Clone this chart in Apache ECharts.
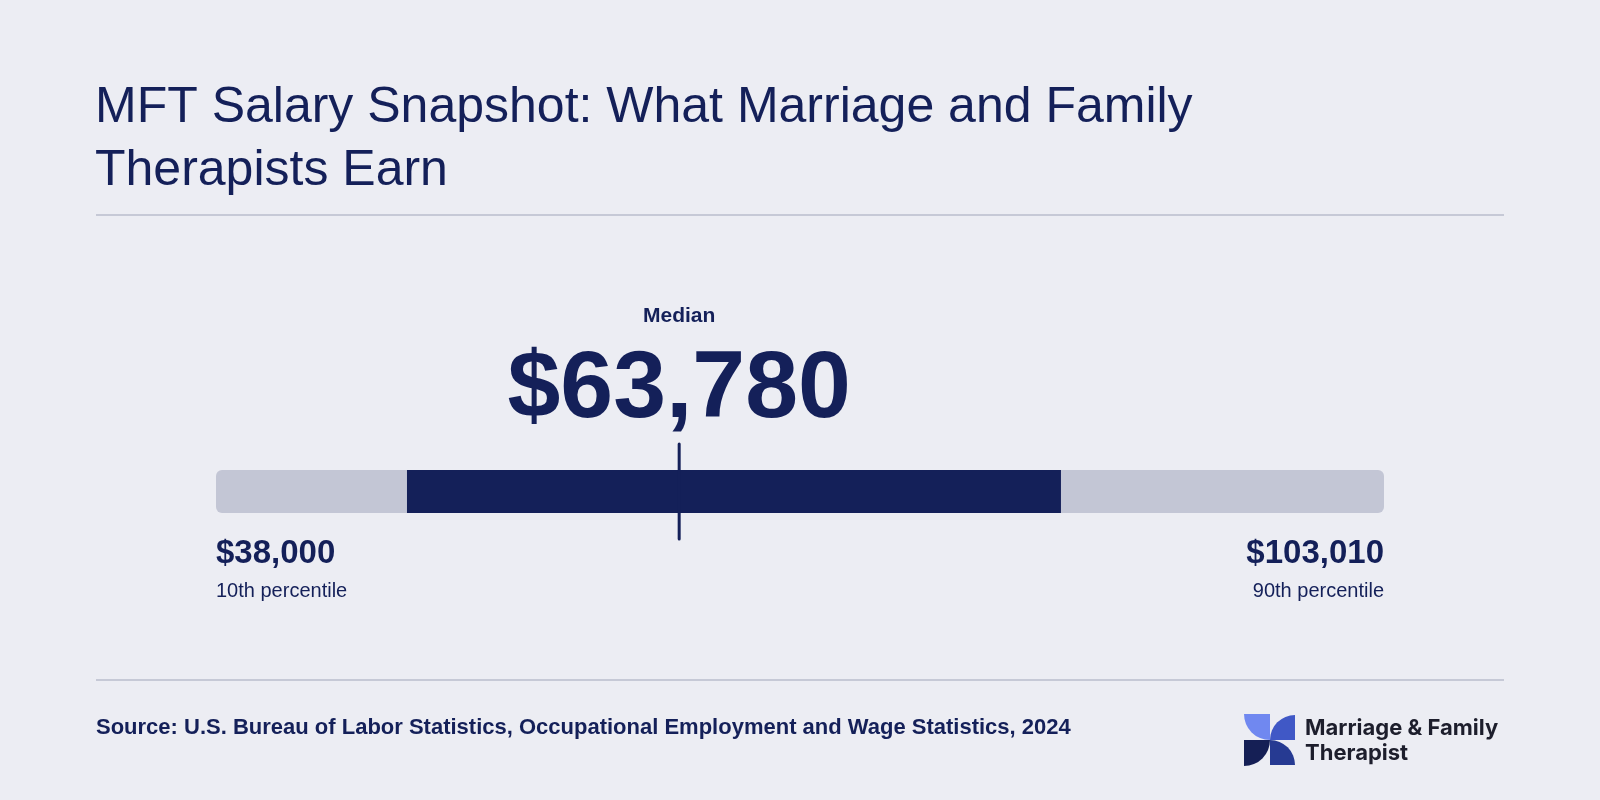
<!DOCTYPE html>
<html lang="en">
<head>
    <meta charset="UTF-8">
    <title>MFT Salary Snapshot</title>
    <script src="https://cdn.jsdelivr.net/npm/echarts@6/dist/echarts.min.js"></script>
</head>
<style>
    *{
        margin: 0;
        padding: 0;
    }
    html,body{
        width: 100%;
        height: 100%;
        overflow: hidden;
        background: #ecedf3;
    }
    .container{
        width: 1600px;
        height: 800px;
    }
</style>
<body>
<div class="container"></div>
<script>
   // salary percentiles (BLS 2024)
   const rangeValues = [38000, 103010];          // 10th, 90th percentile
   const rangeLabels = ['10th percentile', '90th percentile'];
   const boxValues = [48630, 85030];             // 25th, 75th percentile
   const medianValue = 63780;
   const medianLabel = 'Median';
   const categories = ['MFT'];

   const navy = '#142059';
   const track = '#c3c6d5';
   const fmt = v => '$' + v.toLocaleString('en-US');

   let container = document.querySelector('.container');
   let mychart = echarts.init(container);

   function renderItem(params, api) {
       let kind = api.value(2);
       let start = api.coord([api.value(0), 0]);
       let end = api.coord([api.value(1), 0]);
       let h = api.size([0, 1])[1];
       let top = start[1] - h / 2;
       if (kind === 0) {
           // full 10th-90th track with end labels
           return {
               type: 'group',
               children: [
                   {type: 'rect', shape: {x: start[0], y: top, width: end[0] - start[0], height: h, r: 6},
                    style: {fill: track}},
                   {type: 'text', style: {text: fmt(api.value(0)), x: start[0], y: top + h + 41,
                    font: 'bold 33px "Liberation Sans", Arial, sans-serif', fill: navy,
                    textAlign: 'left', textVerticalAlign: 'middle'}},
                   {type: 'text', style: {text: rangeLabels[0], x: start[0], y: top + h + 78,
                    font: '20px "Liberation Sans", Arial, sans-serif', fill: navy,
                    textAlign: 'left', textVerticalAlign: 'middle'}},
                   {type: 'text', style: {text: fmt(api.value(1)), x: end[0], y: top + h + 41,
                    font: 'bold 33px "Liberation Sans", Arial, sans-serif', fill: navy,
                    textAlign: 'right', textVerticalAlign: 'middle'}},
                   {type: 'text', style: {text: rangeLabels[1], x: end[0], y: top + h + 78,
                    font: '20px "Liberation Sans", Arial, sans-serif', fill: navy,
                    textAlign: 'right', textVerticalAlign: 'middle'}}
               ]
           };
       }
       if (kind === 1) {
           return {
               type: 'rect',
               shape: {x: start[0], y: top, width: end[0] - start[0], height: h},
               style: {fill: navy}
           };
       }
       // median marker
       return {
           type: 'group',
           children: [
               {type: 'line', shape: {x1: start[0], y1: top - 26, x2: start[0], y2: top + h + 26},
                style: {stroke: navy, lineWidth: 3, lineCap: 'round'}},
               {type: 'text', style: {text: fmt(api.value(0)), x: start[0], y: top - 79,
                font: 'bold 95px "Liberation Sans", Arial, sans-serif', fill: navy,
                textAlign: 'center', textVerticalAlign: 'middle'}},
               {type: 'text', style: {text: medianLabel, x: start[0], y: top - 154,
                font: 'bold 21px "Liberation Sans", Arial, sans-serif', fill: navy,
                textAlign: 'center', textVerticalAlign: 'middle'}}
           ]
       };
   }

   let options = {
       backgroundColor: '#ecedf3',
       animation: false,
       title: {
           text: 'MFT Salary Snapshot: What Marriage and Family\nTherapists Earn',
           left: 95,
           top: 77,
           padding: 0,
           textStyle: {
               color: navy,
               fontFamily: '"Liberation Sans", Arial, sans-serif',
               fontWeight: 'normal',
               fontSize: 50,
               lineHeight: 63
           }
       },
       grid: {left: 216, right: 216, top: 470, height: 43},
       xAxis: {
           type: 'value',
           min: rangeValues[0],
           max: rangeValues[1],
           show: false
       },
       yAxis: {
           type: 'category',
           data: categories,
           show: false
       },
       series: [{
           type: 'custom',
           renderItem,
           data: [
               [rangeValues[0], rangeValues[1], 0],
               [boxValues[0], boxValues[1], 1],
               [medianValue, medianValue, 2]
           ]
       }],
       graphic: [
           {type: 'line', shape: {x1: 96, y1: 215, x2: 1504, y2: 215}, style: {stroke: '#c6c9d6', lineWidth: 2}},
           {type: 'line', shape: {x1: 96, y1: 680, x2: 1504, y2: 680}, style: {stroke: '#c6c9d6', lineWidth: 2}},
           {type: 'text', style: {
               text: 'Source: U.S. Bureau of Labor Statistics, Occupational Employment and Wage Statistics, 2024',
               x: 96, y: 728, font: 'bold 22px "Liberation Sans", Arial, sans-serif', fill: navy,
               textAlign: 'left', textVerticalAlign: 'middle'}},
           // logo mark: four quarter discs
           {type: 'group', x: 1244, y: 714, children: [
               {type: 'sector', shape: {cx: 26, cy: 0, r: 26, startAngle: Math.PI / 2, endAngle: Math.PI, clockwise: true},
                style: {fill: '#7088f0'}},
               {type: 'sector', shape: {cx: 51, cy: 26, r: 25, startAngle: Math.PI, endAngle: Math.PI * 1.5, clockwise: true},
                style: {fill: '#4058c6'}},
               {type: 'sector', shape: {cx: 0, cy: 26, r: 26, startAngle: 0, endAngle: Math.PI / 2, clockwise: true},
                style: {fill: '#151f55'}},
               {type: 'sector', shape: {cx: 26, cy: 51, r: 25, startAngle: Math.PI * 1.5, endAngle: Math.PI * 2, clockwise: true},
                style: {fill: '#263a92'}}
           ]},
           {type: 'text', style: {text: 'Marriage & Family', x: 1305, y: 728,
               font: '700 22px Inter, sans-serif', fill: '#1d1e2c', textVerticalAlign: 'middle'}},
           {type: 'text', style: {text: 'Therapist', x: 1305, y: 753,
               font: '700 22px Inter, sans-serif', fill: '#1d1e2c', textVerticalAlign: 'middle'}}
       ]
   };

   mychart.setOption(options);
</script>
</body>
</html>
